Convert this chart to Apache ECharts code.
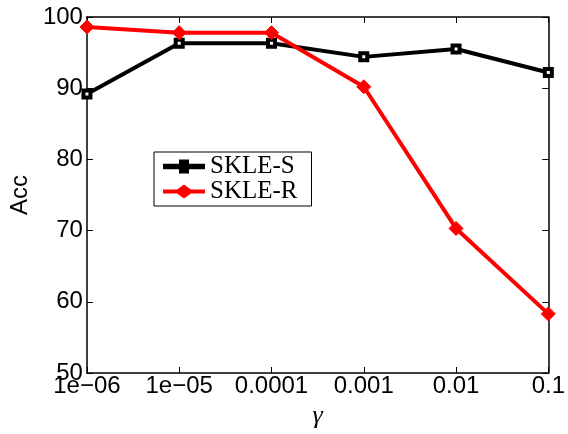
<!DOCTYPE html>
<html><head><meta charset="utf-8">
<script src="https://cdn.jsdelivr.net/npm/echarts@6/dist/echarts.min.js"></script>
<style>html,body{margin:0;padding:0;background:#fff}#c{width:568px;height:434px}</style>
</head><body><div id="c"></div>
<script>
var gammaLabels = ['1e\u221206','1e\u221205','0.0001','0.001','0.01','0.1'];
var skleS = [89.2, 96.3, 96.3, 94.4, 95.5, 92.2];
var skleR = [98.6, 97.8, 97.8, 90.2, 70.3, 58.3];

var chart = echarts.init(document.getElementById('c'));
var tickFont = {fontFamily: 'Liberation Sans', fontSize: 24, color: '#000'};
chart.setOption({
  animation: false,
  backgroundColor: '#fff',
  grid: {left: 86, right: 15, top: 17, bottom: 48},
  xAxis: [{
    type: 'category', data: gammaLabels, boundaryGap: false,
    axisLine: {lineStyle: {color: '#000', width: 1.5}},
    axisTick: {inside: true, length: 6, interval: 0, lineStyle: {color: '#000'}},
    axisLabel: Object.assign({margin: 1, interval: 0, hideOverlap: false}, tickFont),
    name: '\u03b3', nameLocation: 'middle', nameGap: 30,
    nameTextStyle: {fontFamily: 'Liberation Serif', fontStyle: 'italic', fontSize: 26, color: '#000'}
  }, {
    type: 'category', data: gammaLabels, boundaryGap: false, position: 'top',
    axisLine: {lineStyle: {color: '#000', width: 1.5}},
    axisTick: {inside: true, length: 6, interval: 0, lineStyle: {color: '#000'}},
    axisLabel: {show: false}
  }],
  yAxis: [{
    type: 'value', min: 50, max: 100, interval: 10,
    axisLine: {show: true, lineStyle: {color: '#000', width: 1.5}},
    axisTick: {show: true, inside: true, length: 6, lineStyle: {color: '#000'}},
    splitLine: {show: false},
    axisLabel: Object.assign({margin: 4, hideOverlap: false}, tickFont),
    name: 'Acc', nameLocation: 'middle', nameGap: 52,
    nameTextStyle: {fontFamily: 'Liberation Sans', fontSize: 24, color: '#000'}
  }, {
    type: 'value', min: 50, max: 100, interval: 10, position: 'right',
    axisLine: {show: true, lineStyle: {color: '#000', width: 1.5}},
    axisTick: {show: true, inside: true, length: 6, lineStyle: {color: '#000'}},
    splitLine: {show: false},
    axisLabel: {show: false}
  }],
  legend: {
    left: 154, top: 152, orient: 'vertical',
    itemWidth: 42, itemHeight: 14, itemGap: 0, symbolKeepAspect: false,
    backgroundColor: '#fff', borderColor: '#000', borderWidth: 1,
    padding: [2, 14, 2, 9],
    textStyle: {fontFamily: 'Liberation Serif', fontSize: 25, lineHeight: 23, color: '#000'},
    data: [
      {name: 'SKLE-S', itemStyle: {color: '#000', borderColor: '#000', borderWidth: 0},
       icon: 'path://M0,5 L16,5 L16,2 L26,2 L26,5 L42,5 L42,9 L26,9 L26,12 L16,12 L16,9 L0,9 Z'},
      {name: 'SKLE-R', itemStyle: {color: '#ff0000', borderColor: '#ff0000', borderWidth: 0},
       icon: 'path://M0,5 L14,5 L21,0 L28,5 L42,5 L42,9 L28,9 L21,14 L14,9 L0,9 Z'}
    ]
  },
  series: [{
    name: 'SKLE-S', type: 'line', data: skleS,
    lineStyle: {color: '#000', width: 4},
    itemStyle: {color: '#fff', borderColor: '#000', borderWidth: 4},
    symbol: 'rect', symbolSize: 7, z: 3
  }, {
    name: 'SKLE-R', type: 'line', data: skleR,
    lineStyle: {color: '#ff0000', width: 4},
    itemStyle: {color: '#ff0000', borderColor: '#ff0000', borderWidth: 1},
    symbol: 'diamond', symbolSize: 14, z: 4
  }]
});
</script>
</body></html>
